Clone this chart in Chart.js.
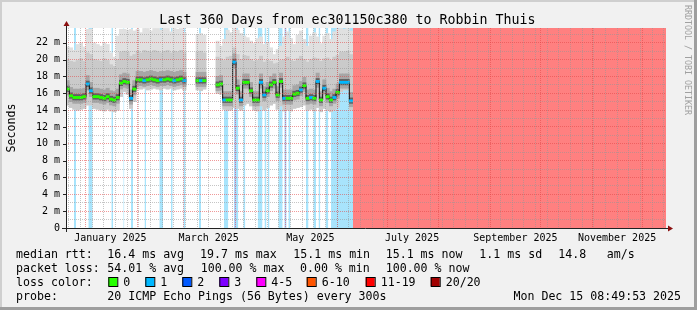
<!DOCTYPE html>
<html>
<head>
<meta charset="utf-8">
<script src="https://cdn.jsdelivr.net/npm/chart.js@4.4.1/dist/chart.umd.min.js"></script>
<style>
html, body { margin: 0; padding: 0; background: #f1f1f1; }
canvas { display: block; }
</style>
</head>
<body>
<canvas id="pingChart" width="697" height="310"></canvas>
<script>
// one value per 2-day bucket, starting at the left edge of the graph (null = no data)
var bucketDays = 2;
var medianRtt = [
    16.5, 15.7, 15.5, 15.5, 15.5, 15.6, 17.1, 16.3, 15.6, 15.6,
    15.5, 15.4, 15.6, 15.3, 15.2, 15.5, 17.2, 17.4, 17.3, 15.4,
    16.5, 17.6, 17.6, 17.5, 17.6, 17.7, 17.6, 17.5, 17.6, 17.6,
    17.7, 17.6, 17.5, 17.6, 17.7, 17.5, null, null, null, 17.5,
    17.5, 17.5, null, null, null, 17.0, 17.1, 15.2, 15.2, 15.2,
    19.7, 16.6, 15.2, 17.3, 17.3, 16.3, 15.2, 15.2, 17.3, 15.8,
    16.3, 17.0, 17.3, 15.8, 17.4, 15.4, 15.4, 15.4, 15.9, 16.0,
    16.4, 16.9, 15.4, 15.5, 15.4, 17.4, 15.2, 16.6, 15.6, 15.2,
    15.5, 16.1, 17.3, 17.3, 17.3, 15.1
];
// loss colour index of the median (0 = green, 1 = light blue)
var medianLoss = [
    0, 0, 0, 0, 0, 0, 1, 1, 0, 0,
    0, 0, 0, 0, 0, 0, 0, 0, 0, 1,
    0, 0, 0, 1, 0, 0, 0, 0, 1, 0,
    0, 0, 1, 0, 0, 1, 0, 0, 0, 0,
    1, 0, 0, 0, 0, 0, 0, 1, 0, 0,
    1, 0, 1, 0, 0, 0, 0, 0, 1, 1,
    0, 0, 0, 0, 0, 1, 0, 0, 0, 0,
    1, 0, 0, 1, 0, 1, 0, 1, 0, 0,
    1, 0, 1, 1, 1, 1
];
var smokeTop = [
    21.5, 21.4, 21.1, 21.8, 22.0, 21.5, 23.6, 23.6, 22.0, 21.8,
    21.6, 22.0, 21.8, 20.8, 20.3, 22.8, 23.6, 23.6, 23.5, 23.6,
    23.4, 23.6, 23.2, 23.7, 23.7, 23.4, 23.7, 23.7, 23.5, 23.7,
    23.7, 23.3, 23.7, 23.6, 23.7, 23.2, null, null, null, 23.0,
    23.1, 22.9, null, null, null, 22.2, 21.6, 22.4, 23.5, 23.2,
    23.7, 23.5, 23.1, 22.8, 22.6, 22.2, 21.9, 22.5, 22.7, 21.8,
    22.0, 21.4, 20.6, 21.2, 21.6, 22.7, 23.3, 22.5, 21.8, 22.9,
    23.4, 22.4, 21.6, 22.8, 23.2, 22.7, 21.9, 22.8, 23.1, 22.4,
    23.3, 23.6, 23.7, 23.6, 23.7, 23.4
];
var smokeHigh = [
    20.0, 19.8, 19.7, 19.9, 20.1, 19.8, 20.8, 20.6, 20.0, 19.9,
    19.8, 20.1, 19.9, 19.4, 19.2, 20.0, 20.9, 21.0, 20.9, 20.4,
    20.6, 21.0, 20.8, 21.1, 21.0, 20.9, 21.1, 21.0, 20.8, 21.0,
    21.1, 20.8, 21.0, 20.9, 21.1, 20.8, null, null, null, 20.9,
    21.0, 20.8, null, null, null, 20.3, 20.1, 19.9, 20.3, 20.4,
    21.4, 20.6, 20.0, 20.5, 20.4, 20.0, 19.8, 19.9, 20.4, 19.7,
    19.9, 19.8, 19.5, 19.6, 19.9, 20.0, 20.3, 19.9, 19.8, 20.1,
    20.4, 20.0, 19.7, 20.0, 20.2, 20.1, 19.8, 20.1, 20.2, 19.9,
    20.3, 20.5, 20.9, 20.9, 21.0, 20.6
];
var smokeLow = [
    14.6, 14.3, 14.1, 14.0, 14.1, 14.2, 14.6, 14.6, 14.2, 14.1,
    14.0, 13.9, 14.1, 13.9, 13.8, 14.0, 15.6, 16.2, 15.9, 14.2,
    15.0, 16.5, 16.5, 16.6, 16.4, 16.5, 16.6, 16.5, 16.4, 16.6,
    16.5, 16.6, 16.4, 16.5, 16.6, 16.4, null, null, null, 16.4,
    16.3, 16.5, null, null, null, 16.0, 15.9, 14.1, 14.0, 14.0,
    14.3, 14.2, 14.0, 14.6, 14.8, 14.5, 14.0, 13.9, 14.5, 14.0,
    14.3, 14.6, 14.8, 14.1, 14.5, 13.9, 14.0, 13.9, 14.2, 14.3,
    14.4, 14.6, 14.0, 14.1, 13.9, 14.3, 13.8, 14.2, 14.0, 13.8,
    14.0, 14.3, 16.2, 16.4, 16.4, 14.0
];

// loss periods in days from the start of the graph
var lossOne = [[4.8, 6.0], [13.4, 16.0], [27.2, 28.2], [34.4, 35.0], [39.0, 40.2], [47.1, 48.0],
    [56.0, 58.2], [63.0, 64.0], [70.4, 71.7], [79.7, 81.0], [94.8, 97.4], [100.8, 103.4],
    [106.4, 107.6], [115.0, 117.9], [119.1, 120.3], [121.2, 122.1], [127.4, 130.0], [131.0, 132.4],
    [133.4, 134.7], [144.0, 145.5], [148.4, 150.0], [151.5, 152.6], [155.7, 157.4], [159.0, 172.2]];
var lossThree = [[101.1, 101.8], [131.2, 131.8]];
var lossMany = [[172.2, 360]];

var yTicks = [0, 1, 2, 3, 4, 5, 6, 7, 8, 9, 10, 11, 12, 13, 14, 15, 16, 17, 18, 19, 20, 21, 22, 23];
var monthLabels = ['January 2025', 'March 2025', 'May 2025', 'July 2025', 'September 2025', 'November 2025'];
var labelMonths = [0, 2, 4, 6, 8, 10];

var titleText = 'Last 360 Days from ec301150c380 to Robbin Thuis';
var rttStats = ['16.4 ms avg', '19.7 ms max', '15.1 ms min', '15.1 ms now', '1.1 ms sd', '14.8', 'am/s'];
var lossStats = ['54.01 % avg', '100.00 % max', '0.00 % min', '100.00 % now'];
var lossNames = ['0', '1', '2', '3', '4-5', '6-10', '11-19', '20/20'];
var lossColors = ['#26ff00', '#00b8ff', '#0059ff', '#7e00ff', '#ff00ff', '#ff5500', '#ff0000', '#a10000'];
var probeText = '20 ICMP Echo Pings (56 Bytes) every 300s';
var stampText = 'Mon Dec 15 08:49:53 2025';

var yMax = 23.75;
var dayMs = 86400000;
var endTime = Date.UTC(2025, 11, 15, 8, 49, 53);
var startTime = endTime - 360 * dayMs;
function dayOf(t) { return (t - startTime) / dayMs; }

// x grid: weekly (sundays), monthly, and month labels in the middle
var xTicks = [];
var t = Date.UTC(2024, 11, 21);
while (new Date(t).getUTCDay() !== 0) t += dayMs;
for (; t < endTime; t += 7 * dayMs) xTicks.push({ value: dayOf(t), kind: 'minor' });
for (var m = 0; m < 12; m++) xTicks.push({ value: dayOf(Date.UTC(2025, m, 1)), kind: 'major' });
labelMonths.forEach(function (mo, i) {
    xTicks.push({ value: dayOf(Date.UTC(2025, mo, 1) + 15 * dayMs), kind: 'label', text: monthLabels[i] });
});

function lossBand(list) {
    var pts = [];
    list.forEach(function (p) {
        pts.push({ x: p[0], y: yMax }, { x: p[1], y: yMax }, { x: p[1], y: null });
    });
    return pts;
}

var smoke1 = [], smoke2 = [], smoke3 = [], smoke4 = [], dashes = [], dashColors = [], stepLine = [];
medianRtt.forEach(function (v, i) {
    var x = i * bucketDays + bucketDays / 2;
    stepLine.push({ x: x, y: v });
    if (v === null) return;
    smoke1.push({ x: x, y: [smokeLow[i], smokeTop[i]] });
    smoke2.push({ x: x, y: [smokeLow[i], smokeHigh[i]] });
    smoke3.push({ x: x, y: [Math.max(smokeLow[i], v - 0.7), v + 1.0] });
    smoke4.push({ x: x, y: [v - 0.3, v + 0.35] });
    dashes.push({ x: x, y: [v - 0.13, v + 0.13] });
    dashColors.push(lossColors[medianLoss[i]]);
});

function bars(data, color, order) {
    return { type: 'bar', data: data, backgroundColor: color, order: order, grouped: false,
        barPercentage: 1, categoryPercentage: 1, borderWidth: 0 };
}
function band(data, color, order) {
    return { type: 'line', data: data, backgroundColor: color, borderColor: 'rgba(0,0,0,0)', borderWidth: 0,
        fill: 'origin', pointRadius: 0, spanGaps: false, tension: 0, order: order };
}

var red = 'rgba(225,70,70,0.55)';
var grey = 'rgba(150,150,150,0.55)';
var mono = 'DejaVu Sans Mono';

var frame = {
    id: 'frame',
    beforeDraw: function (chart) {
        var c = chart.ctx, a = chart.chartArea;
        c.save();
        c.fillStyle = '#f1f1f1';
        c.fillRect(0, 0, 697, 310);
        c.fillStyle = '#cfcfcf';
        c.fillRect(0, 0, 697, 2);
        c.fillRect(0, 0, 2, 310);
        c.fillStyle = '#9e9e9e';
        c.fillRect(0, 307, 697, 3);
        c.fillRect(694, 0, 3, 310);
        c.fillStyle = '#ffffff';
        c.fillRect(a.left, a.top, a.right - a.left, a.bottom - a.top);
        c.restore();
    },
    afterDraw: function (chart) {
        var c = chart.ctx, a = chart.chartArea, ys = chart.scales.y;
        c.save();
        // axes
        c.strokeStyle = '#222';
        c.lineWidth = 1;
        c.beginPath();
        c.moveTo(a.left + 0.5, a.bottom + 4);
        c.lineTo(a.left + 0.5, a.top - 3);
        c.moveTo(a.left - 4, a.bottom + 0.5);
        c.lineTo(a.right + 3, a.bottom + 0.5);
        c.stroke();
        yTicks.forEach(function (v) {
            if (v % 2) return;
            var py = Math.round(ys.getPixelForValue(v)) + 0.5;
            c.beginPath();
            c.moveTo(a.left - 3, py);
            c.lineTo(a.left, py);
            c.stroke();
        });
        c.fillStyle = '#8b1010';
        c.beginPath();
        c.moveTo(a.left + 0.5, a.top - 7);
        c.lineTo(a.left - 2.5, a.top - 2);
        c.lineTo(a.left + 3.5, a.top - 2);
        c.closePath();
        c.fill();
        c.beginPath();
        c.moveTo(a.right + 7, a.bottom + 0.5);
        c.lineTo(a.right + 2, a.bottom - 2.5);
        c.lineTo(a.right + 2, a.bottom + 3.5);
        c.closePath();
        c.fill();

        // title
        c.fillStyle = '#000';
        c.textBaseline = 'alphabetic';
        c.textAlign = 'center';
        c.font = '13.3px "' + mono + '"';
        c.fillText(titleText, 347.5, 24);

        // y axis title
        c.font = '11.6px "' + mono + '"';
        c.save();
        c.translate(14.5, 128);
        c.rotate(-Math.PI / 2);
        c.fillText('Seconds', 0, 0);
        c.restore();

        // side note
        c.save();
        c.fillStyle = '#a0a0a0';
        c.font = '8.3px "' + mono + '"';
        c.textAlign = 'left';
        c.translate(685, 5);
        c.rotate(Math.PI / 2);
        c.fillText('RRDTOOL / TOBI OETIKER', 0, 0);
        c.restore();

        // legend rows
        c.textAlign = 'left';
        c.fillText('median rtt:', 16, 258);
        [107.3, 200, 293.3, 385.7, 479.3, 558.3, 606.7].forEach(function (x, i) {
            c.fillText(rttStats[i], x, 258);
        });
        c.fillText('packet loss:', 16, 272);
        [107.3, 200.7, 300, 385.7].forEach(function (x, i) {
            c.fillText(lossStats[i], x, 272);
        });
        c.fillText('loss color:', 16, 286);
        [108.3, 145.3, 182.3, 219.3, 256.3, 306.7, 365.7, 430.7].forEach(function (x, i) {
            c.fillStyle = lossColors[i];
            c.fillRect(x, 277, 9, 9);
            c.strokeStyle = '#000';
            c.strokeRect(x + 0.5, 277.5, 9, 9);
            c.fillStyle = '#000';
            c.fillText(lossNames[i], x + 15, 286);
        });
        c.fillText('probe:', 16, 300);
        c.fillText(probeText, 107.3, 300);
        c.textAlign = 'right';
        c.fillText(stampText, 681, 300);
        c.restore();
    }
};

var ctx = document.getElementById('pingChart').getContext('2d');
var pingChart = new Chart(ctx, {
    type: 'bar',
    data: {
        datasets: [
            band(lossBand(lossOne), '#a8e4fc', 20),
            band(lossBand(lossThree), '#b6aef5', 19),
            band(lossBand(lossMany), '#ff8080', 18),
            bars(smoke1, '#e0e0e0', 10),
            bars(smoke2, '#cacaca', 9),
            bars(smoke3, '#a6a6a6', 8),
            bars(smoke4, '#606060', 7),
            { type: 'line', data: stepLine, borderColor: '#111', borderWidth: 1, stepped: 'middle',
              pointRadius: 0, spanGaps: false, fill: false, order: 2 },
            { type: 'bar', data: dashes, backgroundColor: dashColors, order: 1, grouped: false,
              barPercentage: 1, categoryPercentage: 1, borderWidth: 0 }
        ]
    },
    options: {
        responsive: false,
        animation: false,
        events: [],
        layout: { padding: { left: 0, top: 28, right: 31, bottom: 0 } },
        plugins: { legend: { display: false }, tooltip: { enabled: false } },
        scales: {
            x: { type: 'linear', min: 0, max: 360, display: false, offset: false, grid: { offset: false } },
            xg: {
                type: 'linear', axis: 'x', position: 'bottom', min: 0, max: 360, offset: false,
                afterBuildTicks: function (s) {
                    s.ticks = xTicks.slice().sort(function (p, q) { return p.value - q.value; });
                },
                afterFit: function (s) { s.height = 82; },
                grid: {
                    z: 1, drawTicks: false, offset: false, lineWidth: 1,
                    color: function (c) {
                        var k = c.tick && c.tick.kind;
                        return k === 'major' ? red : (k === 'minor' ? grey : 'rgba(0,0,0,0)');
                    }
                },
                border: { display: false, dash: [1, 1] },
                ticks: {
                    autoSkip: false, maxRotation: 0, minRotation: 0, padding: 4,
                    color: '#000', font: { family: mono, size: 10 },
                    callback: function (v, i, ticks) { return ticks[i].kind === 'label' ? ticks[i].text : ''; }
                }
            },
            y: {
                min: 0, max: yMax,
                afterBuildTicks: function (s) { s.ticks = yTicks.map(function (v) { return { value: v }; }); },
                afterFit: function (s) { s.width = 66; },
                grid: {
                    z: 1, drawTicks: false, lineWidth: 1,
                    color: function (c) {
                        var v = c.tick ? c.tick.value : 0;
                        if (v === 0) return 'rgba(0,0,0,0)';
                        return v % 2 ? grey : red;
                    }
                },
                border: { display: false, dash: [1, 1] },
                ticks: {
                    autoSkip: false, padding: 6, color: '#000', font: { family: mono, size: 10 },
                    callback: function (v) { return v === 0 ? '0' : (v % 2 ? '' : v + ' m'); }
                }
            }
        }
    },
    plugins: [frame]
});
</script>
</body>
</html>
